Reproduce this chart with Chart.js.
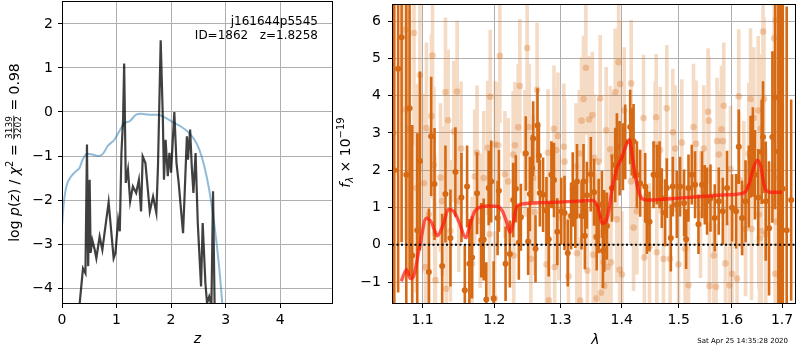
<!DOCTYPE html>
<html>
<head>
<meta charset="utf-8">
<script src="https://cdn.jsdelivr.net/npm/chart.js@4.4.1/dist/chart.umd.min.js"></script>
<style>
html, body { margin: 0; padding: 0; background: #fff; }
#wrap { position: relative; width: 800px; height: 350px; }
canvas { position: absolute; left: 0; top: 0; }
</style>
</head>
<body>
<div id="wrap">
  <canvas id="pz" width="800" height="350"></canvas>
  <canvas id="spec" width="800" height="350"></canvas>
</div>
<script>
// ---- left panel: log p(z) ----
const zTicks = [0, 1, 2, 3, 4];
const pTicks = [-4, -3, -2, -1, 0, 1, 2];

const zBlue = [0, 0.03, 0.08, 0.17, 0.25, 0.32, 0.38, 0.46, 0.57, 0.66, 0.75, 0.84, 0.96, 1.05, 1.15, 1.24,
  1.36, 1.45, 1.6, 1.76, 1.91, 2.03, 2.18, 2.3, 2.43, 2.52, 2.61, 2.7, 2.79, 2.88, 2.95];
const pBlue = [-2.6, -2.1, -1.69, -1.46, -1.35, -1.27, -1.08, -0.95, -0.97, -1.0, -0.95, -0.77, -0.63, -0.44, -0.25, -0.21,
  -0.06, -0.04, -0.06, -0.06, -0.14, -0.23, -0.33, -0.44, -0.63, -0.86, -1.23, -1.77, -2.52, -3.5, -4.5];

const zDark = [0.32, 0.385, 0.43, 0.458, 0.48, 0.507, 0.525, 0.556, 0.6, 0.63, 0.69, 0.74, 0.78, 0.855, 0.9, 0.947,
  0.98, 1.03, 1.06, 1.09, 1.12, 1.14, 1.17, 1.21, 1.25, 1.3, 1.36, 1.41, 1.45, 1.48, 1.53, 1.58, 1.61, 1.67, 1.73,
  1.76, 1.81, 1.85, 1.87, 1.9, 1.94, 1.97, 2.0, 2.06, 2.1, 2.14, 2.22, 2.25, 2.29, 2.31, 2.35, 2.38, 2.41, 2.45,
  2.49, 2.55, 2.58, 2.63, 2.66, 2.7, 2.74, 2.77, 2.8];
const pDark = [-4.4, -3.55, -3.66, -0.74, -3.5, -1.54, -3.2, -2.91, -3.13, -3.32, -2.83, -3.13, -2.75, -2.05, -2.67, -3.32,
  -3.2, -2.45, -2.71, -0.93, -0.18, 1.1, -1.61, -1.31, -2.03, -1.69, -1.84, -1.54, -2.26, -1.01, -1.16, -1.84, -2.26, -1.92, -2.29,
  -1.24, 1.63, -0.17, -1.54, -0.63, -1.46, -0.93, -1.38, 0.0, -1.16, -1.61, -2.75, -1.84, -0.55, -1.08, -0.4, -1.24, -1.84, -0.93,
  -2.52, -3.96, -2.52, -3.89, -4.34, -4.19, -4.4, -1.8, -4.5];

// ---- right panel: spectrum ----
const lamTicks = [1.1, 1.2, 1.3, 1.4, 1.5, 1.6, 1.7];
const fTicks = [-1, 0, 1, 2, 3, 4, 5, 6];

const lamDark = [1.063, 1.068, 1.0725, 1.0786, 1.0829, 1.0864, 1.093, 1.0966, 1.1085, 1.1116, 1.1161, 1.1265, 1.131,
  1.1378, 1.1447, 1.1531, 1.1578, 1.161, 1.1642, 1.168, 1.1751, 1.1811, 1.1846, 1.1883, 1.1917, 1.1954, 1.1989,
  1.2047, 1.2066, 1.2164, 1.2227, 1.2276, 1.2316, 1.2361, 1.2391, 1.2466, 1.2501, 1.2527, 1.2561, 1.2577, 1.2613,
  1.2643, 1.2665, 1.2679, 1.2729, 1.2781, 1.2816, 1.2858, 1.2898, 1.295, 1.3012, 1.3064, 1.3115, 1.3168, 1.3194,
  1.3236, 1.3263, 1.3336, 1.3368, 1.339, 1.3422, 1.3486, 1.3539, 1.3583, 1.3615, 1.3669, 1.3686, 1.3707, 1.3752,
  1.3835, 1.3891, 1.3919, 1.3965, 1.4021, 1.406, 1.4145, 1.4174, 1.4203, 1.426, 1.4317, 1.4404, 1.4433, 1.448,
  1.4551, 1.4609, 1.4657, 1.4697, 1.4756, 1.4786, 1.4858, 1.4894, 1.4966, 1.5026, 1.5099, 1.5136, 1.518, 1.524,
  1.5301, 1.5364, 1.5431, 1.5482, 1.5525, 1.5589, 1.567, 1.5746, 1.5823, 1.5905, 1.6002, 1.608, 1.6132, 1.6197,
  1.6265, 1.633, 1.6364, 1.641, 1.6451, 1.6517, 1.6586, 1.6613, 1.6668, 1.6735, 1.6803, 1.6859, 1.6925, 1.6964,
  1.7015, 1.7096, 1.7189];
const fluxDark = [2.0, 4.72, 5.57, 1.88, 3.66, -0.29, 0.39, 2.25, -0.73, 2.91, 1.63, -0.57, 1.36,
  0.18, 1.95, 1.27, -1.22, 1.56, -0.51, -0.34, 1.38, 0.12, 0.14, -1.47, 1.52, 1.7, -1.44,
  0.72, 1.45, -0.51, -0.25, 1.2, 1.5, 0.06, 0.74, 2.45, 0.09, 1.36, 2.05, 2.85, -0.11,
  3.2, 2.39, 1.39, 1.34, 0.92, 0.15, 1.88, 1.74, 0.35, 0.9, 0.85, -0.22, 0.77, 1.48,
  0.81, 1.7, 0.77, 1.7, 0.24, 1.33, 1.89, 1.41, 0.21, 0.77, 1.08, -0.16, 0.37, 0.5,
  1.52, 2.14, 2.63, 2.32, 2.36, 2.76, 3.16, 2.76, 2.78, 1.88, 1.65, 1.56, 0.65, 0.62,
  1.88, 1.88, 1.88, 1.25, 0.86, 1.52, 0.18, 1.56, 1.08, 1.56, 1.12, 0.15, 1.52, 1.88,
  1.61, 0.55, 1.61, 1.34, 1.17, 1.25, 0.72, 1.17, 0.9, 1.52, 0.99, 0.9, 2.63, 0.72,
  1.17, 1.56, 2.36, 2.49, 1.88, 1.27, 2.49, 2.89, 1.17, 0.44, 2.89, 3.95, 2.5, 4.37,
  1.5, 0.39, 1.2];
const errDark = [6.5, 6.0, 5.5, 5.0, 4.5, 3.5, 2.6, 2.4, 1.7, 1.6, 1.5, 1.4, 1.3,
  1.3, 1.2, 1.2, 1.2, 1.1, 1.2, 1.1, 1.1, 1.0, 1.1, 1.0, 1.0, 1.1, 1.0,
  1.0, 1.1, 1.0, 0.9, 1.0, 0.9, 1.0, 0.9, 1.0, 0.9, 1.0, 0.9, 1.0, 0.9,
  1.0, 0.9, 0.9, 1.0, 0.9, 1.0, 0.9, 1.0, 0.9, 0.9, 1.0, 0.9, 0.9, 1.0,
  0.9, 1.0, 0.9, 1.0, 0.9, 0.9, 1.0, 0.9, 0.9, 1.0, 0.9, 1.0, 1.1, 0.9,
  0.9, 1.0, 0.9, 1.0, 0.9, 1.0, 1.0, 0.9, 1.0, 0.9, 0.9, 0.9, 0.9, 0.8,
  0.9, 0.8, 0.9, 0.8, 0.9, 0.8, 0.9, 0.8, 0.9, 0.8, 0.9, 0.8, 0.9, 0.8,
  0.9, 0.8, 0.9, 0.8, 0.9, 0.9, 0.9, 0.9, 0.9, 1.0, 0.9, 1.0, 1.0, 1.0,
  1.1, 1.1, 1.1, 1.2, 1.2, 1.3, 1.4, 1.5, 1.6, 1.8, 2.3, 3.0, 6.0, 6.0,
  6.0, 6.0, 2.7];

const lamLight = [1.062, 1.0769, 1.0783, 1.0829, 1.0887, 1.0917, 1.0966, 1.1019, 1.104, 1.1053, 1.1085, 1.112, 1.1134,
  1.1153, 1.1166, 1.1174, 1.1242, 1.1265, 1.131, 1.132, 1.1347, 1.1378, 1.1425, 1.1471, 1.1494, 1.1526, 1.168,
  1.1718, 1.1751, 1.1797, 1.1846, 1.1903, 1.193, 1.194, 1.2005, 1.2012, 1.2056, 1.208, 1.2154, 1.2202, 1.2276,
  1.2285, 1.2302, 1.2351, 1.2376, 1.2453, 1.2486, 1.2516, 1.2542, 1.2577, 1.2602, 1.2637, 1.2781, 1.2805, 1.282,
  1.2898, 1.2909, 1.2935, 1.296, 1.2975, 1.3053, 1.3064, 1.3126, 1.3247, 1.326, 1.3299, 1.3315, 1.3336, 1.3368,
  1.3406, 1.3431, 1.3459, 1.3512, 1.3525, 1.3539, 1.3567, 1.358, 1.3615, 1.3641, 1.3653, 1.3697, 1.3707, 1.374,
  1.3752, 1.3765, 1.3807, 1.382, 1.3852, 1.3891, 1.3919, 1.3948, 1.3965, 1.3975, 1.4004, 1.4043, 1.4157, 1.4162,
  1.4203, 1.426, 1.4376, 1.439, 1.448, 1.4579, 1.4597, 1.4609, 1.4667, 1.4727, 1.4786, 1.4845, 1.4894, 1.4936,
  1.4997, 1.5057, 1.5117, 1.518, 1.5272, 1.532, 1.5402, 1.5463, 1.5544, 1.5557, 1.557, 1.5651, 1.5695, 1.5714,
  1.5746, 1.5798, 1.5823, 1.5842, 1.5874, 1.5951, 1.5971, 1.6002, 1.6099, 1.6132, 1.6145, 1.6231, 1.6265, 1.633,
  1.6364, 1.6384, 1.6431, 1.6517, 1.6531, 1.6545, 1.6566, 1.658, 1.6613, 1.6633, 1.6668, 1.6839, 1.6859, 1.6874,
  1.6886, 1.6943, 1.6978];
const fluxLight = [3.0, 5.77, 3.63, 3.11, 5.68, 1.52, 4.55, 1.65, -0.6, 3.13, 0.81, 3.45, 5.08,
  2.14, 0.3, -0.95, 1.8, 1.17, 4.1, -1.18, 3.34, 0.37, 3.04, 4.11, 1.17, 2.58, -0.51,
  1.83, 2.47, 0.64, 1.79, 2.6, 0.28, 3.97, -1.44, 2.69, 2.67, 5.07, 1.89, 1.7, 2.42,
  -0.29, 2.67, 3.15, 4.26, 2.45, 5.28, 3.16, -0.38, 1.79, 0.88, 4.16, -0.53, 2.47, -1.49,
  3.11, -0.6, 2.54, 2.92, 0.74, 2.63, 2.23, -0.85, 2.1, -0.23, 2.45, -1.5, 3.33, 3.91,
  4.75, -0.69, 3.36, 3.48, -0.27, 2.33, 0.21, -1.44, 2.23, 3.93, -1.29, -0.47, -1.11, 3.07,
  0.95, -0.6, 2.56, -0.47, 2.39, 4.1, 0.68, 4.9, -0.67, 4.31, -0.8, 3.6, 1.7, 4.33,
  0.46, 0.9, 3.4, -0.34, -0.05, 2.69, 3.42, -0.2, 2.54, -0.38, 3.66, -0.38, 3.02, 2.58,
  -0.53, 2.74, -0.11, -1.09, 3.16, 2.71, 0.81, 2.58, 3.57, 3.33, -1.11, -0.29, -1.13, 2.78,
  2.42, 3.1, 2.78, 3.73, -0.5, -1.09, 2.03, -0.78, -0.91, 3.98, 1.74, 1.52, 0.42, 2.45,
  3.91, 0.42, 3.4, 3.6, 0.81, 0.18, 3.11, 0.37, 5.72, 3.91, 0.28, 5.54, -0.78, 6.03,
  0.62, 1.79, 0.12];
const errLight = [5.0, 3.5, 3.5, 3.2, 3.0, 2.8, 2.6, 2.4, 2.4, 2.3, 2.3, 2.2, 2.2,
  2.1, 2.1, 2.1, 2.0, 2.0, 2.0, 2.0, 1.9, 1.9, 1.9, 1.9, 1.9, 1.8, 1.8,
  1.8, 1.8, 1.8, 1.8, 1.8, 1.7, 1.8, 1.8, 1.7, 1.7, 1.8, 1.7, 1.7, 1.7,
  1.7, 1.7, 1.7, 1.8, 1.7, 1.8, 1.7, 1.7, 1.7, 1.7, 1.8, 1.7, 1.7, 1.7,
  1.7, 1.7, 1.7, 1.7, 1.7, 1.7, 1.7, 1.7, 1.7, 1.7, 1.7, 1.7, 1.7, 1.7,
  1.8, 1.7, 1.7, 1.7, 1.7, 1.7, 1.7, 1.7, 1.7, 1.7, 1.7, 1.7, 1.7, 1.7,
  1.7, 1.7, 1.7, 1.7, 1.7, 1.7, 1.7, 1.8, 1.7, 1.7, 1.7, 1.7, 1.7, 1.7,
  1.7, 1.7, 1.7, 1.7, 1.7, 1.7, 1.7, 1.7, 1.7, 1.7, 1.7, 1.7, 1.7, 1.7,
  1.7, 1.7, 1.7, 1.7, 1.7, 1.7, 1.7, 1.7, 1.7, 1.7, 1.7, 1.7, 1.7, 1.7,
  1.7, 1.7, 1.7, 1.7, 1.7, 1.7, 1.7, 1.7, 1.8, 1.8, 1.8, 1.8, 1.8, 1.9,
  1.9, 1.9, 1.9, 2.0, 2.0, 2.0, 2.0, 2.0, 2.2, 2.2, 2.3, 3.0, 3.0, 3.5,
  3.5, 4.5, 4.5];

const lamModel = [1.072, 1.079, 1.084, 1.088, 1.096, 1.105, 1.112, 1.12, 1.128, 1.135, 1.142, 1.15, 1.159, 1.166,
  1.172, 1.18, 1.192, 1.204, 1.212, 1.218, 1.223, 1.228, 1.233, 1.243, 1.27, 1.303, 1.33, 1.351, 1.36, 1.368,
  1.372, 1.377, 1.384, 1.393, 1.4, 1.407, 1.413, 1.418, 1.425, 1.434, 1.445, 1.462, 1.5, 1.55, 1.591, 1.623,
  1.633, 1.641, 1.65, 1.657, 1.662, 1.668, 1.676, 1.685, 1.7];
const fluxModel = [-0.98, -0.67, -0.91, -0.85, -0.07, 0.71, 0.6, 0.24, 0.55, 0.95, 0.9, 0.6, 0.19, 0.6,
  0.9, 1.01, 1.04, 1.03, 0.9, 0.6, 0.33, 0.6, 1.03, 1.1, 1.13, 1.15, 1.17, 1.19, 1.03, 0.57,
  0.6, 0.81, 1.52, 2.1, 2.32, 2.65, 2.82, 2.4, 1.7, 1.25, 1.2, 1.21, 1.25, 1.3, 1.34, 1.39,
  1.6, 2.0, 2.27, 2.1, 1.7, 1.45, 1.41, 1.41, 1.41];

const FONT = 'DejaVu Sans';
Chart.defaults.font.family = FONT;
Chart.defaults.font.size = 14;
Chart.defaults.color = '#000';

const ORANGE = 'rgb(214,106,20)';
const ORANGE_LIGHT = 'rgba(214,106,20,0.25)';
const ORANGE_DOT = 'rgba(214,106,20,0.3)';

function pts(xs, ys) {
  return xs.map((x, i) => ({ x: x, y: ys[i] }));
}
function errSegments(xs, ys, es) {
  const out = [];
  xs.forEach((x, i) => {
    out.push({ x: x, y: ys[i] - es[i] }, { x: x, y: ys[i] + es[i] }, { x: x, y: null });
  });
  return out;
}
const minus = v => String(v).replace('-', '\u2212');

// draws a label made of several pieces (italics, sub/superscripts, a stacked fraction)
function richText(ctx, parts, x, y, rotate) {
  ctx.save();
  ctx.translate(x, y);
  if (rotate) ctx.rotate(-Math.PI / 2);
  let total = 0;
  parts.forEach(p => {
    ctx.font = p.font;
    p.w = p.frac
      ? Math.max(ctx.measureText(p.frac[0]).width, ctx.measureText(p.frac[1]).width) + 2
      : ctx.measureText(p.t).width;
    total += p.w;
  });
  let cx = -total / 2;
  ctx.fillStyle = '#000';
  ctx.textBaseline = 'alphabetic';
  parts.forEach(p => {
    ctx.font = p.font;
    if (p.frac) {
      ctx.textAlign = 'center';
      ctx.fillText(p.frac[0], cx + p.w / 2, -7.5);
      ctx.fillText(p.frac[1], cx + p.w / 2, 2);
      ctx.fillRect(cx + 0.5, -5.6, p.w - 1, 0.8);
    } else {
      ctx.textAlign = 'left';
      ctx.fillText(p.t, cx, p.dy || 0);
    }
    cx += p.w;
  });
  ctx.restore();
}

const N = '14px ' + FONT, I = 'italic 14px ' + FONT;

function frameBox(chart) {
  const a = chart.chartArea, c = chart.ctx;
  c.save();
  c.strokeStyle = '#000';
  c.lineWidth = 1;
  c.strokeRect(a.left + 0.5, a.top + 0.5, a.right - a.left - 1, a.bottom - a.top - 1);
  c.restore();
}

function axisOpts(extra) {
  return Object.assign({
    grid: { color: '#b0b0b0', lineWidth: 1, tickColor: '#000', tickLength: 4 },
    border: { display: false }
  }, extra);
}
// fixed axis sizes, and no extra room kept for the end labels
function fixX(h) {
  return s => { s.height = h; s.paddingLeft = 0; s.paddingRight = 0; };
}
function fixY(w) {
  return s => { s.width = w; s.paddingTop = 0; s.paddingBottom = 0; };
}

new Chart(document.getElementById('pz'), {
  type: 'line',
  data: {
    datasets: [
      { data: pts(zDark, pDark), borderColor: 'rgba(0,0,0,0.75)', borderWidth: 2.2, pointRadius: 0, clip: 0 },
      { data: pts(zBlue, pBlue), borderColor: 'rgba(31,119,180,0.5)', borderWidth: 2, pointRadius: 0,
        cubicInterpolationMode: 'monotone', clip: 0 }
    ]
  },
  options: {
    responsive: false, animation: false, events: [],
    layout: { padding: { left: 0, right: 467, top: 1, bottom: 0 } },
    plugins: { legend: { display: false }, tooltip: { enabled: false } },
    scales: {
      x: axisOpts({
        type: 'linear', min: 0, max: 4.97,
        afterBuildTicks: s => { s.ticks = zTicks.map(v => ({ value: v })); },
        afterFit: fixX(46),
        ticks: { padding: 4, maxRotation: 0, autoSkip: false, callback: v => minus(v) }
      }),
      y: axisOpts({
        type: 'linear', min: -4.36, max: 2.52,
        afterBuildTicks: s => { s.ticks = pTicks.map(v => ({ value: v })); },
        afterFit: fixY(62),
        ticks: { padding: 5, autoSkip: false, callback: v => minus(v) }
      })
    }
  },
  plugins: [{
    id: 'pzText',
    afterDraw(chart) {
      const c = chart.ctx;
      frameBox(chart);
      richText(c, [
        { t: 'log ', font: N }, { t: 'p', font: I }, { t: '(', font: N }, { t: 'z', font: I },
        { t: ') / ', font: N }, { t: '\u03c7', font: I }, { t: '2', font: '10px ' + FONT, dy: -6 },
        { t: ' = ', font: N }, { frac: ['3139', '3202'], font: '9px ' + FONT }, { t: ' = 0.98', font: N }
      ], 19, 152.5, true);
      richText(c, [{ t: 'z', font: I }], 197.5, 343, false);
      c.save();
      c.font = '12px ' + FONT;
      c.textAlign = 'right';
      c.textBaseline = 'alphabetic';
      c.fillStyle = '#000';
      c.fillText('j161644p5545', 318, 25);
      c.fillText('ID=1862   z=1.8258', 318, 38.5);
      c.restore();
    }
  }]
});

new Chart(document.getElementById('spec'), {
  type: 'line',
  data: {
    datasets: [
      { data: [{ x: 1.0601, y: 0 }, { x: 1.729, y: 0 }], borderColor: '#000', borderWidth: 2,
        borderDash: [2, 2.5], pointRadius: 0, clip: 0 },
      { data: pts(lamModel, fluxModel), borderColor: 'rgba(255,20,10,0.7)', borderWidth: 3.4, pointRadius: 0,
        cubicInterpolationMode: 'monotone', clip: 0 },
      { data: pts(lamDark, fluxDark), showLine: false, pointRadius: 3, pointBorderWidth: 0,
        pointBackgroundColor: ORANGE, clip: 0 },
      { data: errSegments(lamDark, fluxDark, errDark), borderColor: ORANGE, borderWidth: 2.6, pointRadius: 0,
        borderCapStyle: 'butt', spanGaps: false, clip: 0 },
      { data: pts(lamLight, fluxLight), showLine: false, pointRadius: 3.3, pointBorderWidth: 0,
        pointBackgroundColor: ORANGE_DOT, clip: 0 },
      { data: errSegments(lamLight, fluxLight, errLight), borderColor: ORANGE_LIGHT, borderWidth: 3.6, pointRadius: 0,
        borderCapStyle: 'butt', spanGaps: false, clip: 0 }
    ]
  },
  options: {
    responsive: false, animation: false, events: [],
    layout: { padding: { left: 340, right: 1, top: 1, bottom: 0 } },
    plugins: { legend: { display: false }, tooltip: { enabled: false } },
    scales: {
      x: axisOpts({
        type: 'logarithmic', min: 1.0601, max: 1.729, z: 1,
        afterBuildTicks: s => { s.ticks = lamTicks.map(v => ({ value: v })); },
        afterFit: fixX(46),
        ticks: { padding: 4, maxRotation: 0, autoSkip: false, callback: v => Number(v).toFixed(1) }
      }),
      y: axisOpts({
        type: 'linear', min: -1.59, max: 6.46, z: 1,
        afterBuildTicks: s => { s.ticks = fTicks.map(v => ({ value: v })); },
        afterFit: fixY(52),
        ticks: { padding: 7, autoSkip: false, callback: v => minus(v) }
      })
    }
  },
  plugins: [{
    id: 'specText',
    afterDraw(chart) {
      const c = chart.ctx;
      frameBox(chart);
      richText(c, [
        { t: 'f', font: I }, { t: '\u03bb', font: 'italic 10px ' + FONT, dy: 3 },
        { t: ' \u00d7 10', font: N }, { t: '\u221219', font: '10px ' + FONT, dy: -6 }
      ], 350, 152.5, true);
      richText(c, [{ t: '\u03bb', font: I }], 595.5, 344, false);
      c.save();
      c.font = '7px ' + FONT;
      c.textAlign = 'right';
      c.textBaseline = 'alphabetic';
      c.fillStyle = '#000';
      c.fillText('Sat Apr 25 14:35:28 2020', 788, 343);
      c.restore();
    }
  }]
});
</script>
</body>
</html>
